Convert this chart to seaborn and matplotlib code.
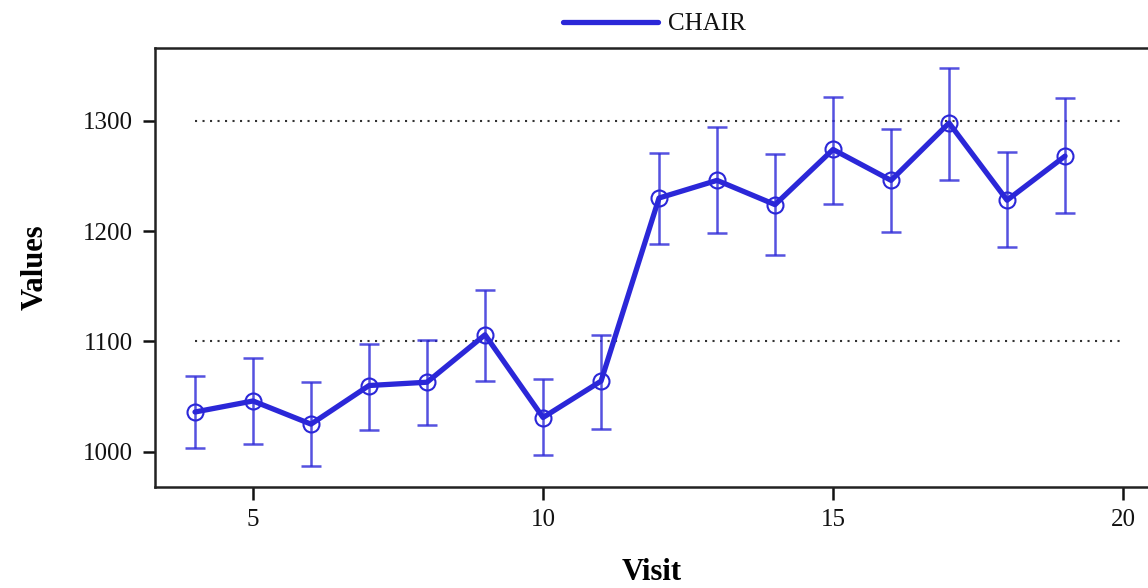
import numpy as np
import pandas as pd
import matplotlib
matplotlib.use("Agg")
import matplotlib.pyplot as plt
import seaborn as sns

visits = [4, 5, 6, 7, 8, 9, 10, 11, 12, 13, 14, 15, 16, 17, 18, 19]
values = [1036, 1046, 1025, 1060, 1063, 1106, 1031, 1064, 1230, 1246, 1224, 1274, 1246, 1298, 1228, 1268]
upper = [1069, 1085, 1063, 1098, 1101, 1147, 1066, 1106, 1271, 1294, 1270, 1322, 1293, 1348, 1272, 1321]
lower = [1003, 1007, 987, 1020, 1024, 1064, 997, 1021, 1188, 1198, 1178, 1225, 1199, 1246, 1186, 1216]
ref_levels = [1100, 1300]
series_name = "CHAIR"
y_ticks = [1000, 1100, 1200, 1300]
x_ticks = [5, 10, 15, 20]

sns.set_style("ticks")
plt.rcParams["font.family"] = ["Liberation Serif", "DejaVu Serif"]

df = pd.DataFrame({"Visit": visits, "Values": values, "series": series_name})

W, H = 1148, 588
fig = plt.figure(figsize=(W / 100, H / 100), dpi=100)
left, right, top, bottom = 155, 1148, 48, 487
ax = fig.add_axes([left / W, (H - bottom) / H, (right - left) / W, (bottom - top) / H])

color = "#2b27d8"

for lvl in ref_levels:
    ax.hlines(lvl, 4, 20, colors="#333333", linestyles=(0, (1, 2.6)), linewidth=1.5, zorder=1)

yerr = np.vstack([np.array(values) - np.array(lower), np.array(upper) - np.array(values)])
ax.errorbar(visits, values, yerr=yerr, fmt="none", ecolor=color, alpha=0.8,
            elinewidth=1.8, capsize=7, capthick=1.8, zorder=2)

sns.lineplot(data=df, x="Visit", y="Values", hue="series", palette=[color], ax=ax,
             linewidth=3.8, marker="o", markersize=11.5, markerfacecolor="none",
             markeredgecolor=color, markeredgewidth=1.5, zorder=3)

ax.set_xlim(3.31, 20.43)
ax.set_ylim(968, 1366)
ax.set_xticks(x_ticks)
ax.set_yticks(y_ticks)
ax.tick_params(axis="both", labelsize=18, length=9, width=1.8, pad=7,
               colors="#111111", labelcolor="#111111")

for s in ["left", "bottom", "top"]:
    ax.spines[s].set_linewidth(1.8)
    ax.spines[s].set_color("#222222")
ax.spines["right"].set_visible(False)

ax.set_xlabel("Visit", fontsize=22, fontweight="bold", labelpad=19, color="black")
ax.set_ylabel("Values", fontsize=22, fontweight="bold", labelpad=24, color="black")

ax.legend(loc="lower center", bbox_to_anchor=(0.503, 1.0), frameon=False, fontsize=18,
          handlelength=3.8, handletextpad=0.4, borderaxespad=0.1)
leg = ax.get_legend()
for t in leg.get_texts():
    t.set_color("#111111")
for h in leg.get_lines():
    h.set_marker("")
    h.set_linewidth(3.8)

fig.savefig("out.png", dpi=100)
